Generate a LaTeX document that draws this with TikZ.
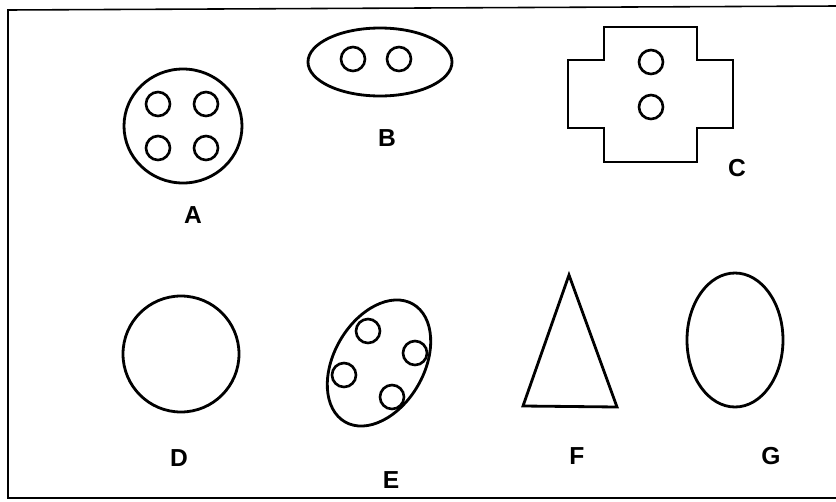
\documentclass[tikz,border=0pt]{standalone}
\usepackage{fontspec}
\setmainfont{Liberation Sans}

\begin{document}
\begin{tikzpicture}[x=0.02cm,y=-0.02cm,line width=1.6pt,
        hole/.style={line width=1.5pt},
        lbl/.style={font=\bfseries\fontsize{14}{14}\selectfont}]
        \useasboundingbox (0,0) rectangle (836,501);

        \coordinate (A)  at (183,126);
        \coordinate (B)  at (380,62);
        \coordinate (D)  at (181,354);
        \coordinate (E)  at (379,363);
        \coordinate (G)  at (735,340);

        \coordinate (F1) at (569,275);
        \coordinate (F2) at (617,407);
        \coordinate (F3) at (523,406);

        % frame
        \draw[line width=0.9pt] (836,6) -- (8,10) -- (8,498) -- (836,498);

        % A
        \draw (A) ellipse [x radius=59, y radius=57];
        \foreach \hx/\hy in {158/104, 206/104, 158/148, 206/148}
            \draw[hole] (\hx,\hy) circle (12);

        % B
        \draw (B) ellipse [x radius=72, y radius=34];
        \draw[hole] (353,59) circle (12);
        \draw[hole] (399,59) circle (12);

        % C
        \draw (604,27) -- (697,27) -- (697,60) -- (733,60) -- (733,128)
              -- (697,128) -- (697,162) -- (604,162) -- (604,128)
              -- (568,128) -- (568,60) -- (604,60) -- cycle;
        \draw[hole] (651,62)  circle (12);
        \draw[hole] (651,107) circle (12);

        % D
        \draw (D) circle (58);

        % E
        \draw[rotate around={60:(E)}] (E) ellipse [x radius=68, y radius=45];
        \foreach \hx/\hy in {368/331, 415/353, 344/375, 392/397}
            \draw[hole] (\hx,\hy) circle (12);

        % F
        \draw[line join=miter] (F1) -- (F2) -- (F3) -- cycle;

        % G
        \draw (G) ellipse [x radius=48, y radius=67];

        \node[lbl] (lA) at (193,215) {A};
        \node[lbl] (lB) at (387,138) {B};
        \node[lbl] (lC) at (737,168) {C};
        \node[lbl] (lD) at (179,458) {D};
        \node[lbl] (lE) at (391,480) {E};
        \node[lbl] (lF) at (577,456) {F};
        \node[lbl] (lG) at (771,456) {G};
    \end{tikzpicture}
\end{document}
